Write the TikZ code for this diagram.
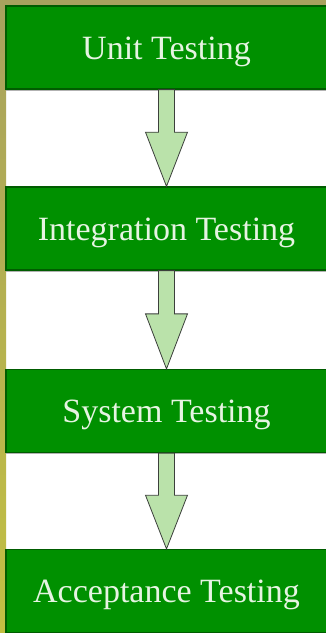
\documentclass[tikz,border=0pt]{standalone}
\usepackage{fontspec}
\setmainfont{Liberation Serif}
\usetikzlibrary{calc,shadows}
\definecolor{stagegreen}{RGB}{0,144,0}
\definecolor{stageedge}{RGB}{0,92,0}
\definecolor{stagetext}{RGB}{230,244,226}
\definecolor{flowfill}{RGB}{186,226,170}
\definecolor{flowedge}{RGB}{60,64,60}
\definecolor{frameolive}{RGB}{168,162,94}
\definecolor{frameyellow}{RGB}{194,192,66}

\begin{document}
\begin{tikzpicture}[x=1pt, y=-1pt,
    stage/.style={draw=stageedge, line width=1.2pt, fill=stagegreen, text=stagetext,
        minimum width=321pt, minimum height=83pt, inner sep=0pt,
        text height=30pt, text depth=7pt,
        font=\fontsize{34}{40}\selectfont,
        drop shadow={shadow xshift=0pt, shadow yshift=-1.5pt, fill=black!30, opacity=1}},
    flow/.style={draw=flowedge, line width=0.8pt, fill=flowfill, line join=miter}]
    \useasboundingbox (0,0) rectangle (326,633);
    \fill[white] (0,0) rectangle (326,633);
    % olive frame on the top and left
    \shade[top color=frameolive, bottom color=frameyellow] (0,0) rectangle (6,633);
    \fill[frameolive] (0,0) rectangle (326,6);

    \node[stage] (unit) at (166.5,47.5) {Unit Testing};
    \node[stage] (integration) at (166.5,228.5) {Integration Testing};
    \node[stage] (system) at (166.5,411) {System Testing};
    \node[stage] (acceptance) at (166.5,591) {Acceptance Testing};

    % block arrows between the stages
    \foreach \a/\b in {unit/integration, integration/system, system/acceptance}
        \draw[flow] ($(\a.south)+(-8,0)$) -- ($(\a.south)!0.44!(\b.north)+(-8,0)$)
            -- ($(\a.south)!0.44!(\b.north)+(-21,0)$) -- (\b.north)
            -- ($(\a.south)!0.44!(\b.north)+(21,0)$) -- ($(\a.south)!0.44!(\b.north)+(8,0)$)
            -- ($(\a.south)+(8,0)$) -- cycle;
\end{tikzpicture}
\end{document}
